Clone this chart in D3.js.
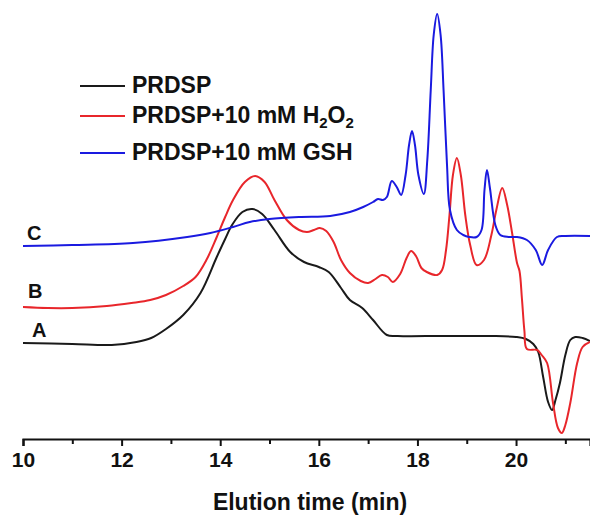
<!DOCTYPE html>
<html>
<head>
<meta charset="utf-8">
<script src="https://cdn.jsdelivr.net/npm/d3@7"></script>
<style>
  body { margin: 0; background: #fff; }
  svg { display: block; font-family: "Liberation Sans", Arial, sans-serif; }
</style>
</head>
<body>
<div id="chart"></div>
<script>
// Elution traces, time (min) and signal (arbitrary units above the baseline axis)
const timeA = [10.0, 11.0, 11.8, 12.3, 12.6, 12.9, 13.25, 13.6, 13.93, 14.1, 14.24, 14.45, 14.65, 14.85, 15.1, 15.42, 15.7, 16.0, 16.2, 16.45, 16.63, 16.88, 17.1, 17.38, 17.6, 18.5, 19.5, 20.0, 20.2, 20.35, 20.45, 20.55, 20.65, 20.73, 20.8, 20.89, 21.0, 21.1, 21.2, 21.35, 21.5];
const signalA = [96, 95, 94, 97, 101, 110, 124, 146, 182, 200, 214, 227, 230, 225, 209, 187, 177, 172, 167, 151, 139, 131, 119, 104, 103, 103, 103, 102, 100, 95, 87, 62, 37, 29, 39, 56, 84, 99, 102, 101, 98];

const timeB = [10.0, 10.5, 11.0, 11.7, 12.2, 12.58, 12.9, 13.25, 13.5, 13.73, 13.93, 14.1, 14.26, 14.5, 14.71, 14.9, 15.1, 15.35, 15.6, 15.76, 15.9, 16.02, 16.15, 16.3, 16.45, 16.63, 16.85, 17.0, 17.15, 17.28, 17.4, 17.5, 17.65, 17.78, 17.87, 17.97, 18.08, 18.19, 18.4, 18.5, 18.58, 18.65, 18.72, 18.8, 18.88, 18.97, 19.07, 19.2, 19.35, 19.5, 19.6, 19.72, 19.82, 19.92, 20.02, 20.07, 20.12, 20.17, 20.22, 20.43, 20.52, 20.63, 20.75, 20.85, 20.93, 21.0, 21.1, 21.24, 21.35, 21.5];
const signalB = [132, 131, 131, 133, 136, 139, 144, 153, 162, 180, 202, 222, 239, 257, 263, 257, 239, 219, 209, 207, 209, 211, 208, 197, 179, 166, 158, 156, 160, 164, 162, 157, 165, 181, 188, 183, 171, 167, 164, 169, 189, 224, 264, 281, 264, 224, 194, 174, 179, 204, 229, 251, 234, 206, 176, 168, 140, 108, 90, 89, 84, 76, 36, 11, 6, 14, 36, 76, 92, 97];

const timeC = [10.0, 11.0, 12.23, 13.33, 13.8, 14.26, 14.6, 15.0, 15.6, 16.23, 16.63, 16.9, 17.1, 17.2, 17.3, 17.38, 17.48, 17.58, 17.67, 17.76, 17.83, 17.89, 17.95, 18.02, 18.13, 18.2, 18.27, 18.33, 18.4, 18.47, 18.53, 18.6, 18.66, 18.8, 18.93, 19.05, 19.2, 19.3, 19.36, 19.41, 19.47, 19.58, 19.68, 19.85, 20.02, 20.22, 20.4, 20.53, 20.65, 20.83, 21.0, 21.5];
const signalC = [193, 194, 196, 202, 206, 212, 217, 220, 222, 223, 227, 232, 237, 240, 239, 242, 258, 252, 244, 264, 294, 308, 294, 264, 245, 279, 349, 404, 425, 404, 349, 274, 229, 209, 204, 202, 202, 209, 249, 269, 251, 214, 204, 202, 202, 199, 189, 174, 189, 202, 203, 203];

const seriesNames = ["PRDSP", "PRDSP+10 mM H2O2", "PRDSP+10 mM GSH"];
const seriesTags = ["A", "B", "C"];
const seriesColors = ["#1a1a1a", "#e8262b", "#1a1ae0"];
const majorTicks = [10, 12, 14, 16, 18, 20];
const minorTicks = [11, 13, 15, 17, 19, 21];

const W = 590, H = 516;
const axisY = 439;

const svg = d3.select("#chart").append("svg")
    .attr("width", W)
    .attr("height", H);

const x = d3.scaleLinear().domain([10, 21.5]).range([23, 590]);
const y = d3.scaleLinear().domain([0, 425]).range([axisY, 14]);

// traces
const line = d3.line()
    .x(d => x(d[0]))
    .y(d => y(d[1]))
    .curve(d3.curveCatmullRom.alpha(0.5));

const traces = [
    d3.zip(timeA, signalA),
    d3.zip(timeB, signalB),
    d3.zip(timeC, signalC)
];

traces.forEach((pts, i) => {
    svg.append("path")
        .datum(pts)
        .attr("fill", "none")
        .attr("stroke", seriesColors[i])
        .attr("stroke-width", 2)
        .attr("stroke-linejoin", "round")
        .attr("d", line);
});

// x axis
const xAxis = svg.append("g")
    .attr("transform", `translate(0,${axisY})`)
    .call(d3.axisBottom(x).tickValues(majorTicks).tickSize(7).tickPadding(6).tickFormat(d3.format("d")));
xAxis.select(".domain").attr("stroke-width", 2.2).attr("stroke", "#111");
xAxis.selectAll(".tick line").attr("stroke-width", 2).attr("stroke", "#111");
xAxis.selectAll("text")
    .attr("font-size", 21)
    .attr("font-weight", "bold")
    .attr("fill", "#111")
    .attr("font-family", "'Liberation Sans', Arial, sans-serif");

svg.append("g")
    .attr("transform", `translate(0,${axisY})`)
    .call(d3.axisBottom(x).tickValues(minorTicks).tickSize(5).tickFormat(""))
    .call(g => g.select(".domain").remove())
    .selectAll(".tick line").attr("stroke-width", 2).attr("stroke", "#111");

svg.append("text")
    .attr("x", 310)
    .attr("y", 510)
    .attr("text-anchor", "middle")
    .attr("font-size", 23)
    .attr("font-weight", "bold")
    .attr("fill", "#111")
    .text("Elution time (min)");

// trace tags A, B, C
const tagPos = [[32, 337], [28, 298], [27, 240]];
seriesTags.forEach((t, i) => {
    svg.append("text")
        .attr("x", tagPos[i][0])
        .attr("y", tagPos[i][1])
        .attr("font-size", 20)
        .attr("font-weight", "bold")
        .attr("fill", "#111")
        .text(t);
});

// legend
const legY = [86, 116, 153];
seriesNames.forEach((name, i) => {
    svg.append("line")
        .attr("x1", 80).attr("x2", 125)
        .attr("y1", legY[i]).attr("y2", legY[i])
        .attr("stroke", seriesColors[i])
        .attr("stroke-width", 2);

    const txt = svg.append("text")
        .attr("x", 132)
        .attr("y", legY[i] + 7)
        .attr("font-size", 23)
        .attr("font-weight", "bold")
        .attr("fill", "#111");

    if (name.endsWith("H2O2")) {
        txt.append("tspan").text("PRDSP+10 mM H");
        txt.append("tspan").attr("font-size", 15).attr("dy", 5).text("2");
        txt.append("tspan").attr("dy", -5).text("O");
        txt.append("tspan").attr("font-size", 15).attr("dy", 5).text("2");
    } else {
        txt.text(name);
    }
});
</script>
</body>
</html>
